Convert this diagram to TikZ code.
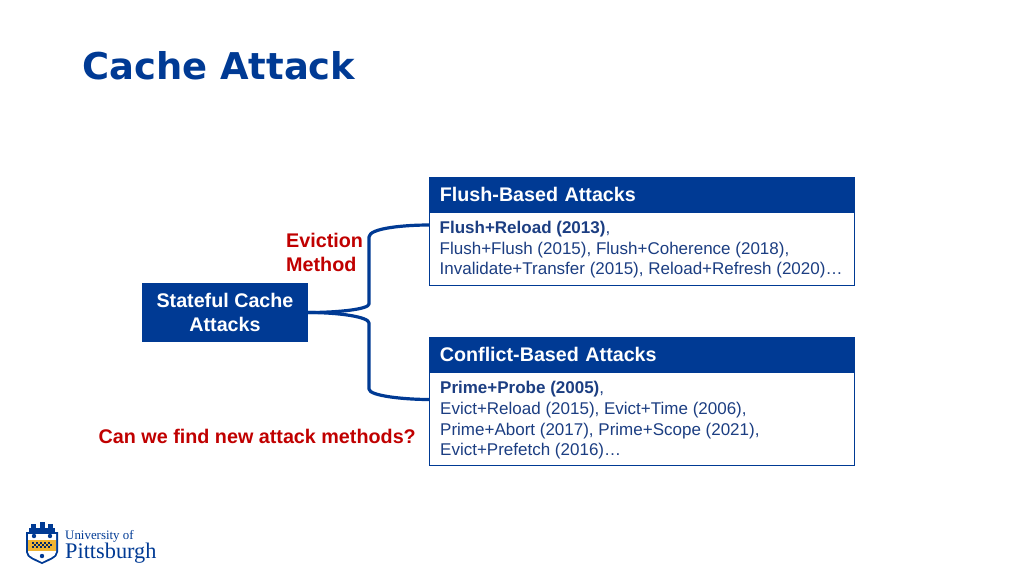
\documentclass[tikz,border=0pt]{standalone}
\usepackage{fontspec}
\setmainfont{Liberation Sans}
\newfontfamily\titlefont{DejaVu Sans}
\newfontfamily\logofont{Liberation Serif}
\usetikzlibrary{positioning}
\definecolor{pittblue}{RGB}{0,58,148}
\definecolor{evred}{RGB}{192,0,0}
\definecolor{bodyblue}{RGB}{28,62,130}
\definecolor{pittgold}{RGB}{240,180,50}
\tikzset{
    headbox/.style={
        rectangle, minimum width=425pt, minimum height=34.5pt,
        text width=404pt, inner sep=0pt, align=left,
        draw=pittblue, line width=.8pt, fill=pittblue, text=white,
        font=\fontsize{19.7}{23}\selectfont\bfseries
    },
    listbox/.style={
        rectangle, minimum width=425pt, inner sep=0pt,
        draw=pittblue, line width=.8pt, fill=white
    },
    listtext/.style={
        inner sep=0pt, align=left, text=bodyblue,
        font=\fontsize{17}{20.6}\selectfont
    },
    rootbox/.style={
        rectangle, minimum width=166pt, minimum height=59pt,
        align=center, inner sep=0pt,
        fill=pittblue, text=white,
        font=\fontsize{19.7}{24}\selectfont\bfseries
    },
    redlabel/.style={
        text=evred, align=left, inner sep=0pt,
        font=\fontsize{19.75}{24}\selectfont\bfseries
    },
    connector/.style={
        line width=3.2pt, draw=pittblue, line join=round
    }
}
\begin{document}
\begin{tikzpicture}[x=1pt,y=-1pt]
    \useasboundingbox (0,0) rectangle (1024,576);
    \node[anchor=west, inner sep=0pt, text=pittblue, font=\titlefont\fontsize{36.9}{40}\selectfont\bfseries] (title) at (82,66) {Cache Attack};

    % boxes
    \node[rootbox] (root) at (225,312.5) {Stateful Cache\\Attacks};
    \node[headbox, anchor=north west] (flushhead) at (429,177) {Flush-Based Attacks};
    \node[listbox, anchor=north west, minimum height=72.5pt] (flushlist) at (429,212) {};
    \node[listtext, anchor=west] (flushtext) at ([xshift=10.5pt,yshift=-1pt]flushlist.west) {\textbf{Flush+Reload (2013)},\\Flush+Flush (2015), Flush+Coherence (2018),\\Invalidate+Transfer (2015), Reload+Refresh (2020)\ldots};
    \node[headbox, anchor=north west] (confhead) at (429,337) {Conflict-Based Attacks};
    \node[listbox, anchor=north west, minimum height=93pt] (conflist) at (429,372) {};
    \node[listtext, anchor=west] (conftext) at ([xshift=11pt,yshift=-1.5pt]conflist.west) {\textbf{Prime+Probe (2005)},\\Evict+Reload (2015), Evict+Time (2006),\\Prime+Abort (2017), Prime+Scope (2021),\\Evict+Prefetch (2016)\ldots};

    % labels
    \node[redlabel, anchor=west] (evict) at (286,252.5) {Eviction\\Method};
    \node[redlabel, anchor=east] (question) at (416,436) {Can we find new attack methods?};

    % branches
    \draw[connector] (root.east |- 0,312.5) .. controls (340,312.5) and (369,309) .. (369,304) -- (369,237) .. controls (369,228) and (405,225) .. (flushlist.west |- 0,225);
    \draw[connector] (root.east |- 0,312.5) .. controls (340,312.5) and (369,317) .. (369,323) -- (369,389) .. controls (369,396) and (405,399.5) .. (conflist.west |- 0,399.5);

    % logo
    \fill[pittblue] (26,532) -- (58,532) -- (58,552) .. controls (58,558) and (48,561) .. (42,564) .. controls (36,561) and (26,558) .. (26,552) -- cycle;
    \fill[white] (28,534) -- (56,534) -- (56,552) .. controls (56,557) and (47,559) .. (42,562) .. controls (37,559) and (28,557) .. (28,552) -- cycle;
    \fill[pittgold] (28,540) rectangle (56,551);
    \fill[pittblue] (31,524) rectangle (36,532);
    \fill[pittblue] (39.5,522) rectangle (44.5,532);
    \fill[pittblue] (48,524) rectangle (53,532);
    \fill[pittblue] (29,528) rectangle (55,533);
    \fill[pittblue] (34,536) circle (2.2pt);
    \fill[pittblue] (50,536) circle (2.2pt);
    \fill[pittblue] (42,556) circle (2.2pt);
    \foreach \xa in {32,36,...,48}{
        \fill[pittblue!70!black] (\xa,542) rectangle ++(2,2);
        \fill[pittblue!70!black] (\xa+2,544) rectangle ++(2,2);
        \fill[pittblue!70!black] (\xa,546) rectangle ++(2,2);
    }
    \node[anchor=base west, inner sep=0pt, text=pittblue, font=\logofont\fontsize{12.9}{14}\selectfont] (logotop) at (65,539.5) {University of};
    \node[anchor=base west, inner sep=0pt, text=pittblue, font=\logofont\fontsize{22.3}{24}\selectfont] (logomain) at (65,558.5) {Pittsburgh};
\end{tikzpicture}
\end{document}
